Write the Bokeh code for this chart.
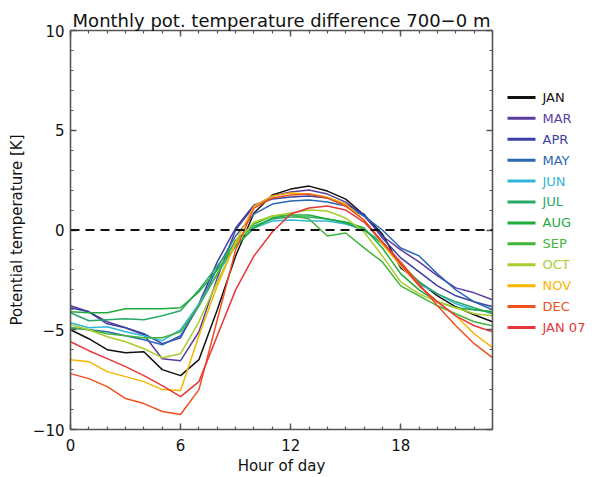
from bokeh.plotting import figure
from bokeh.models import Range1d, FixedTicker, LinearAxis, Span
from bokeh.layouts import row
from bokeh.embed import file_html
from bokeh.resources import INLINE
from bokeh.core.properties import value

hours = list(range(24))

jan = [-5.0, -5.45, -6.0, -6.15, -6.1, -7.0, -7.3, -6.5, -4.0, -1.3, 0.85, 1.75,
       2.05, 2.2, 1.95, 1.55, 0.75, -0.2, -1.9, -2.6, -3.3, -3.85, -4.25, -4.6]
mar = [-3.8, -4.1, -4.6, -4.9, -5.25, -6.45, -6.55, -5.1, -2.4, 0.0, 1.2, 1.7,
       1.9, 2.0, 1.8, 1.4, 0.7, -0.3, -1.0, -1.6, -2.3, -2.9, -3.15, -3.5]
apr = [-3.9, -4.1, -4.7, -4.9, -5.2, -5.7, -5.4, -3.7, -1.6, 0.1, 1.25, 1.55,
       1.65, 1.7, 1.6, 1.3, 0.8, -0.4, -1.4, -2.1, -2.8, -3.3, -3.6, -3.85]
may = [-4.9, -5.0, -5.1, -5.3, -5.5, -5.75, -5.3, -3.8, -1.9, -0.3, 0.8, 1.3,
       1.45, 1.5, 1.4, 1.2, 0.7, 0.0, -0.9, -1.3, -2.2, -3.0, -3.6, -4.0]
jun = [-4.65, -4.9, -4.85, -5.1, -5.3, -5.55, -5.0, -3.7, -2.2, -0.8, 0.1, 0.45,
       0.5, 0.45, 0.45, 0.3, 0.0, -0.6, -1.8, -2.7, -3.2, -3.7, -4.0, -4.1]
jul = [-4.15, -4.55, -4.5, -4.45, -4.5, -4.3, -4.05, -3.0, -1.8, -0.6, 0.2, 0.55,
       0.65, 0.65, 0.55, 0.35, 0.0, -0.7, -1.7, -2.6, -3.2, -3.6, -3.9, -4.2]
aug = [-4.1, -4.15, -4.15, -3.95, -3.95, -3.95, -3.9, -3.1, -2.0, -0.8, 0.1, 0.6,
       0.75, 0.75, 0.55, 0.4, 0.1, -0.9, -2.2, -3.0, -3.6, -3.9, -4.0, -4.1]
sep = [-4.9, -5.0, -5.2, -5.3, -5.4, -5.4, -5.1, -3.8, -2.2, -0.5, 0.3, 0.7,
       0.75, 0.55, -0.3, -0.15, -0.9, -1.6, -2.8, -3.3, -3.8, -4.2, -4.6, -4.8]
octo = [-4.75, -5.0, -5.35, -5.6, -5.95, -6.4, -6.2, -4.6, -2.6, -0.7, 0.4, 0.7,
        0.85, 1.0, 0.95, 0.6, -0.1, -1.3, -2.6, -3.2, -3.6, -3.9, -4.2, -4.3]
nov = [-6.5, -6.6, -7.1, -7.35, -7.6, -8.0, -8.05, -5.3, -2.8, -0.6, 1.2, 1.7,
       1.85, 1.8, 1.65, 1.3, 0.5, -0.7, -1.8, -2.8, -3.6, -4.3, -5.2, -5.9]
dec = [-7.2, -7.45, -7.85, -8.45, -8.7, -9.1, -9.25, -8.0, -4.5, -1.0, 1.1, 1.6,
       1.75, 1.8, 1.6, 1.2, 0.5, -0.6, -1.6, -2.7, -3.8, -4.8, -5.7, -6.4]
jan07 = [-5.6, -6.05, -6.45, -6.85, -7.3, -7.8, -8.35, -7.6, -5.3, -3.0, -1.3, -0.1,
         0.8, 1.1, 1.2, 1.0, 0.4, -0.6, -1.7, -2.8, -3.6, -4.3, -4.8, -5.1]

months = ["JAN", "MAR", "APR", "MAY", "JUN", "JUL", "AUG", "SEP", "OCT", "NOV", "DEC", "JAN  07"]
series = [jan, mar, apr, may, jun, jul, aug, sep, octo, nov, dec, jan07]
colors = ["#111111", "#5b3c9e", "#3c3fa3", "#2a68b4", "#33b5d9", "#2aa86a",
          "#1faa3c", "#3fb53a", "#a9cd2c", "#f7b500", "#f0501e", "#e6373a"]

x_major = [0, 6, 12, 18]
y_major = [-10, -5, 0, 5, 10]
y_labels = {-10: "\u221210", -5: "\u22125", 0: "0", 5: "5", 10: "10"}

FONT = "DejaVu Sans"
W, H = 500, 477

p = figure(width=W, height=H, x_range=Range1d(0, 23), y_range=Range1d(-10, 10),
           output_backend="svg", toolbar_location=None,
           min_border_left=70, min_border_right=8, min_border_top=30, min_border_bottom=46)
p.title.text = "Monthly pot. temperature difference 700\u22120 m"
p.title.align = "center"
p.title.text_font = FONT
p.title.text_font_size = "18px"
p.title.text_font_style = "normal"
p.title.text_color = "#111111"
p.title.offset = 0
p.title.standoff = 0
p.outline_line_color = None
p.xgrid.visible = False
p.ygrid.visible = False

xt = FixedTicker(ticks=x_major, minor_ticks=hours)
yt = FixedTicker(ticks=y_major, minor_ticks=list(range(-10, 11)))

def style(ax):
    ax.axis_line_color = "#555555"
    ax.axis_line_width = 1.6
    ax.major_tick_line_color = "#555555"
    ax.minor_tick_line_color = "#555555"
    ax.major_tick_line_width = 1.4
    ax.minor_tick_line_width = 1.2
    ax.major_tick_in = 6
    ax.major_tick_out = 0
    ax.minor_tick_in = 3
    ax.minor_tick_out = 0
    ax.major_label_text_font = FONT
    ax.major_label_text_font_size = "15px"
    ax.major_label_text_color = "#111111"
    ax.axis_label_text_font = FONT
    ax.axis_label_text_font_size = "15px"
    ax.axis_label_text_font_style = "normal"
    ax.axis_label_text_color = "#111111"

xa = p.xaxis[0]
xa.ticker = xt
style(xa)
xa.major_label_standoff = 9
xa.axis_label = "Hour of day"
xa.axis_label_standoff = 3

ya = p.yaxis[0]
ya.ticker = yt
style(ya)
ya.major_label_overrides = y_labels
ya.major_label_standoff = 6
ya.axis_label = "Potential temperature [K]"
ya.axis_label_standoff = 4

top = LinearAxis(ticker=xt)
style(top)
top.major_label_overrides = {t: "" for t in x_major}
top.major_label_standoff = 0
p.add_layout(top, "above")
right = LinearAxis(ticker=yt)
style(right)
right.major_label_overrides = {t: "" for t in y_major}
right.major_label_standoff = 0
p.add_layout(right, "right")

p.add_layout(Span(location=0, dimension="width", line_color="#111111",
                  line_width=2, line_dash="9 6"))

for ys, c in zip(series, colors):
    p.line(hours, ys, line_color=c, line_width=1.5)

# legend panel
LW = 598 - W
lg = figure(width=LW, height=H, x_range=Range1d(0, LW), y_range=Range1d(H, 0),
            output_backend="svg", toolbar_location=None, min_border=0)
lg.axis.visible = False
lg.xgrid.visible = False
lg.ygrid.visible = False
lg.outline_line_color = None
ypos = [80 + 25 * i for i in range(len(months))]
lg.segment(x0=[7] * len(months), y0=ypos, x1=[35] * len(months), y1=ypos,
           line_color=colors, line_width=3)
lg.text(x=[42] * len(months), y=ypos, text=months, text_color=colors,
        text_font=value(FONT), text_font_size="13px", text_baseline="middle")

layout = row(p, lg)
open("out.html", "w").write(file_html(layout, INLINE))
